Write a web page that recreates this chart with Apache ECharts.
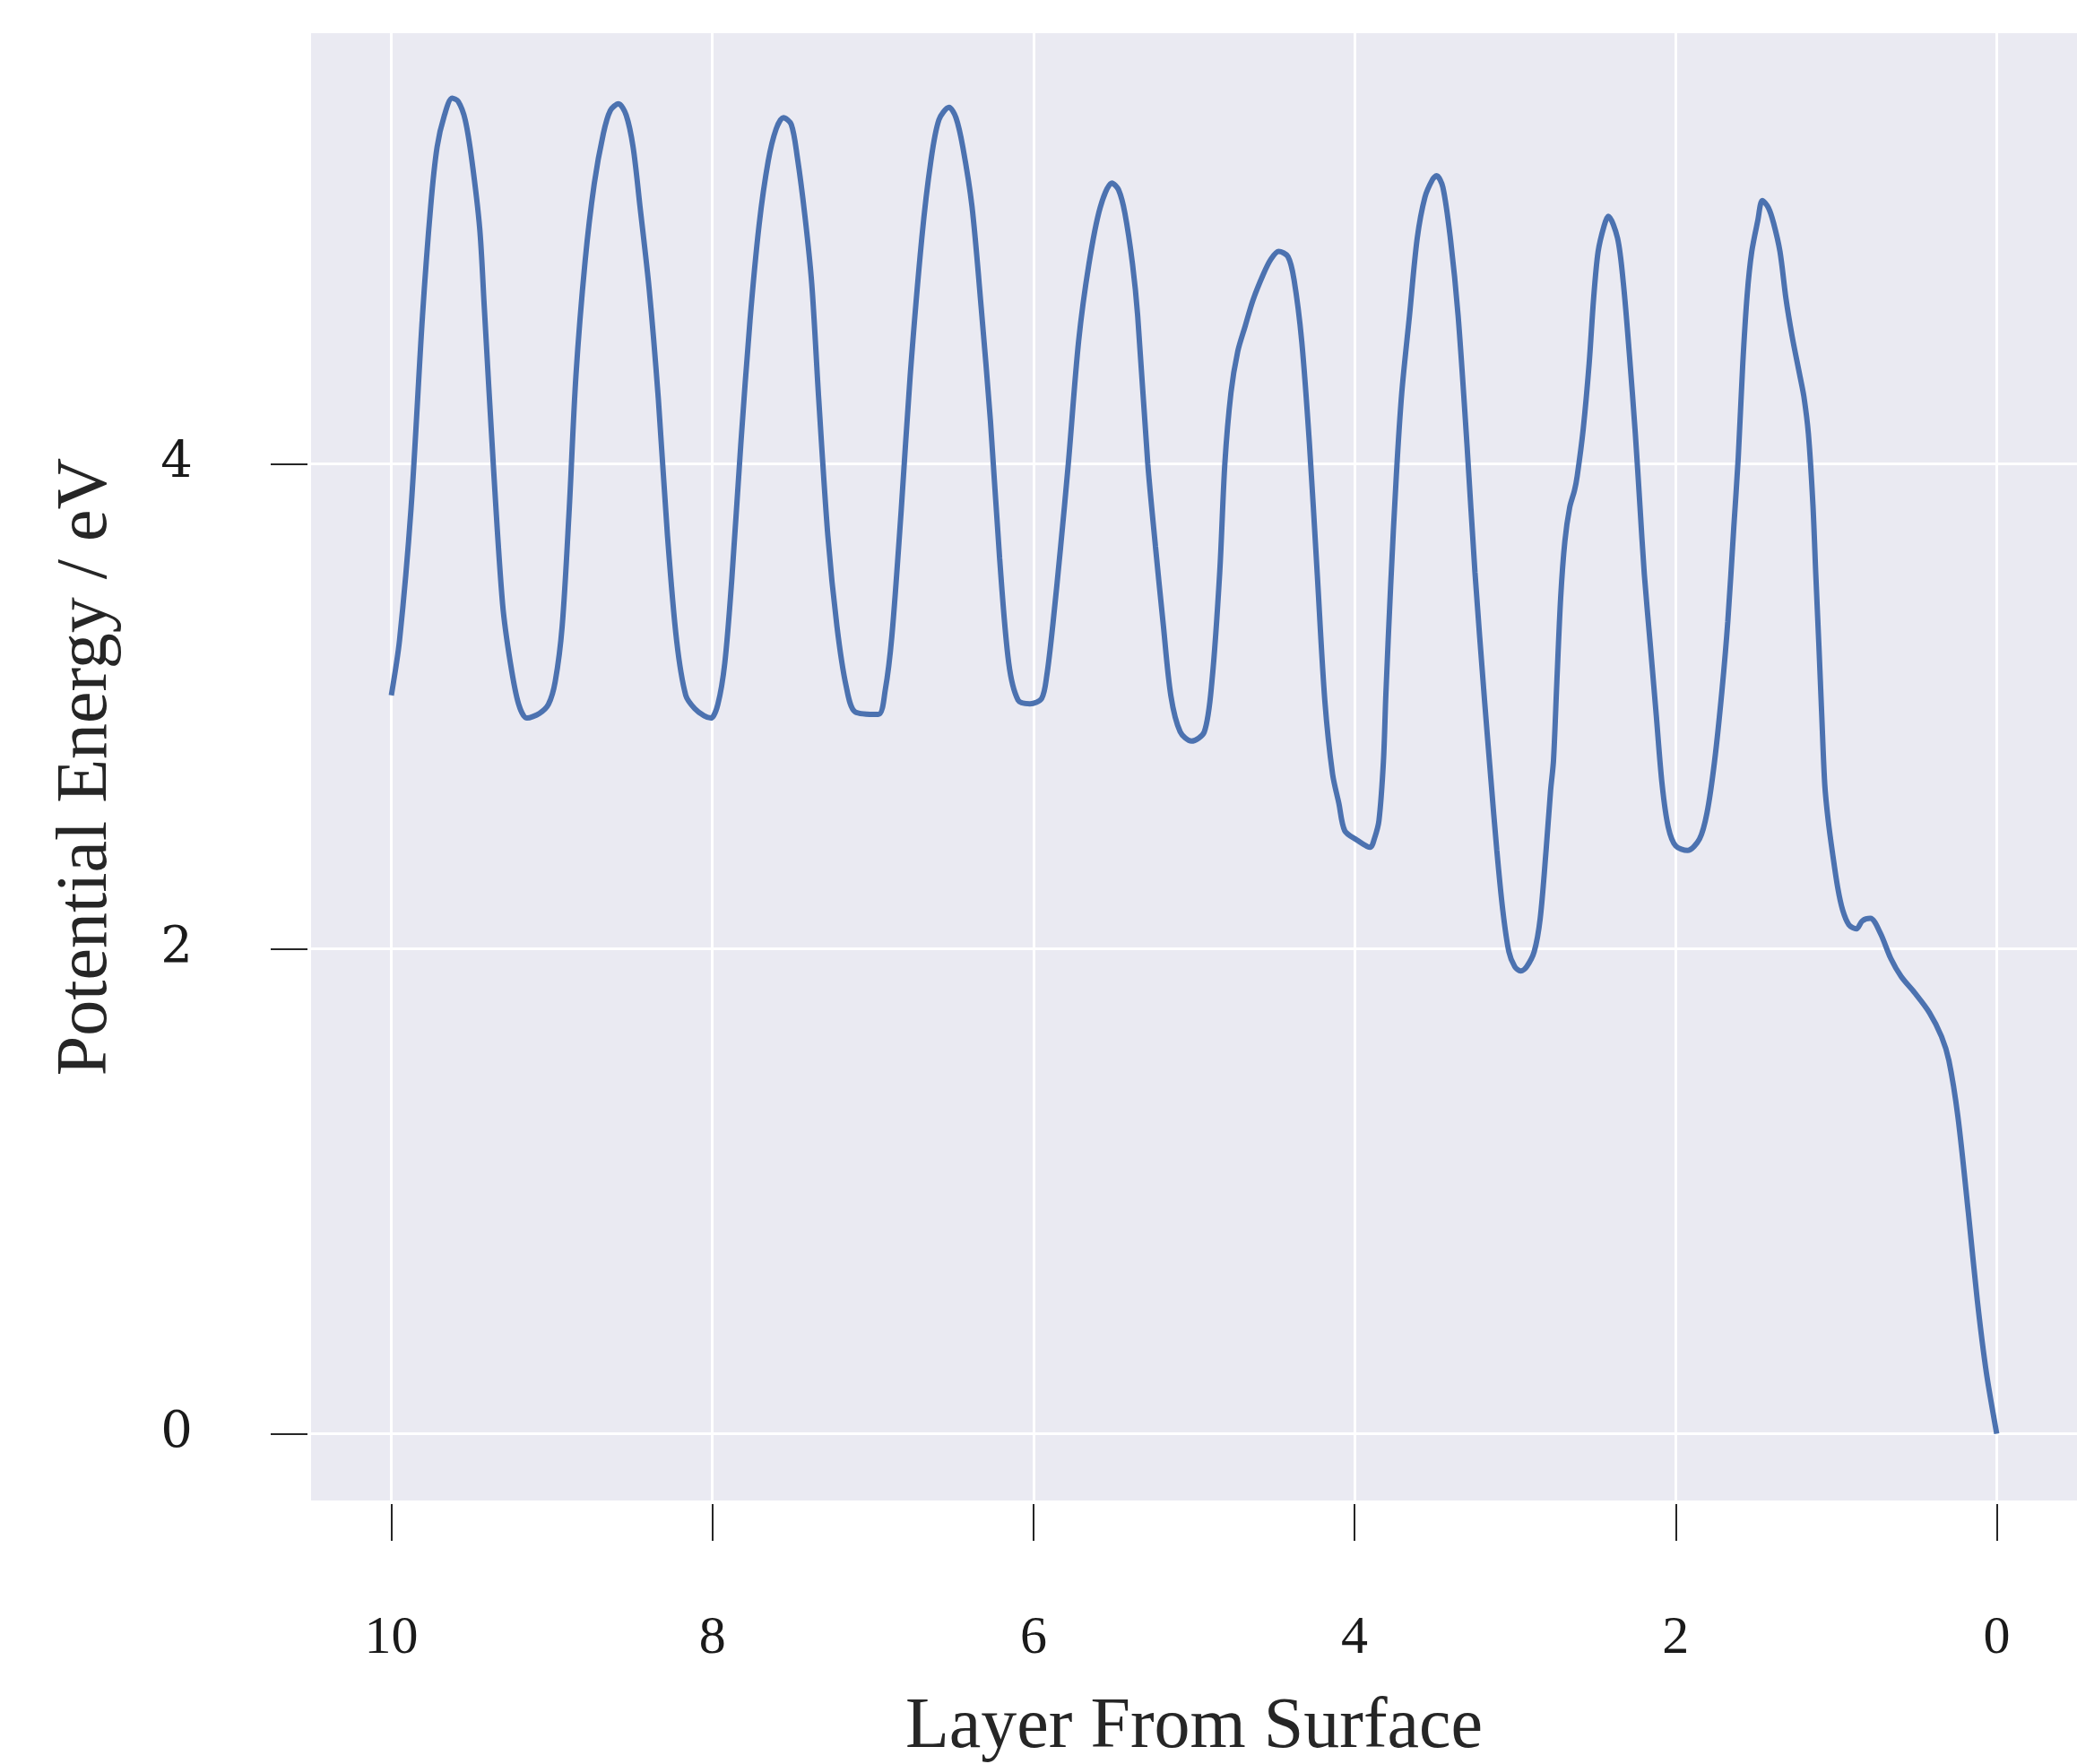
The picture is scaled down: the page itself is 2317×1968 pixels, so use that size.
<!DOCTYPE html>
<html>
<head>
<meta charset="utf-8">
<title>Potential Energy</title>
<script src="https://cdn.jsdelivr.net/npm/echarts@6/dist/echarts.min.js"></script>
<style>
    html, body { margin: 0; padding: 0; background: #fff; }
    #chart { width: 2317px; height: 1968px; }
</style>
</head>
<body>
<div id="chart"></div>
<script>
var layerPos = [
    10.000, 9.949, 9.877, 9.806, 9.755, 9.715, 9.669, 9.621, 9.583, 9.540,
    9.498, 9.449, 9.421, 9.364, 9.307, 9.258, 9.207, 9.155, 9.078, 9.021,
    8.979, 8.936, 8.893, 8.850, 8.793, 8.736, 8.679, 8.636, 8.585, 8.537,
    8.494, 8.451, 8.394, 8.337, 8.280, 8.223, 8.166, 8.109, 8.051, 8.009,
    7.966, 7.923, 7.880, 7.823, 7.766, 7.709, 7.652, 7.603, 7.558, 7.509,
    7.472, 7.424, 7.381, 7.338, 7.281, 7.224, 7.167, 7.110, 6.967, 6.924,
    6.882, 6.825, 6.768, 6.696, 6.639, 6.589, 6.526, 6.483, 6.440, 6.383,
    6.326, 6.268, 6.211, 6.154, 6.096, 6.022, 5.949, 5.917, 5.879, 5.831,
    5.783, 5.719, 5.655, 5.585, 5.511, 5.470, 5.431, 5.383, 5.351, 5.288,
    5.240, 5.192, 5.144, 5.086, 5.016, 4.936, 4.888, 4.840, 4.808, 4.770,
    4.728, 4.681, 4.633, 4.569, 4.521, 4.473, 4.415, 4.377, 4.329, 4.281,
    4.233, 4.185, 4.137, 4.098, 4.061, 3.987, 3.903, 3.876, 3.848, 3.820,
    3.805, 3.775, 3.740, 3.706, 3.658, 3.610, 3.562, 3.514, 3.489, 3.450,
    3.403, 3.355, 3.300, 3.250, 3.190, 3.151, 3.114, 3.077, 3.039, 3.002,
    2.965, 2.928, 2.881, 2.844, 2.807, 2.779, 2.761, 2.740, 2.716, 2.690,
    2.660, 2.630, 2.613, 2.576, 2.539, 2.511, 2.483, 2.446, 2.420, 2.362,
    2.325, 2.288, 2.251, 2.223, 2.195, 2.158, 2.121, 2.084, 2.046, 2.000,
    1.926, 1.851, 1.805, 1.758, 1.712, 1.675, 1.638, 1.610, 1.582, 1.554,
    1.526, 1.489, 1.460, 1.422, 1.390, 1.350, 1.313, 1.275, 1.229, 1.201,
    1.173, 1.145, 1.127, 1.108, 1.090, 1.071, 1.050, 1.023, 0.990, 0.960,
    0.921, 0.874, 0.837, 0.787, 0.726, 0.660, 0.595, 0.512, 0.419, 0.344,
    0.298, 0.242, 0.177, 0.121, 0.065, 0.000
];
var energy = [
    3.045, 3.271, 3.817, 4.608, 5.060, 5.305, 5.437, 5.507, 5.493, 5.418,
    5.249, 4.966, 4.646, 3.987, 3.422, 3.177, 3.008, 2.951, 2.970, 3.008,
    3.102, 3.328, 3.798, 4.363, 4.834, 5.154, 5.362, 5.456, 5.484, 5.437,
    5.305, 5.060, 4.721, 4.269, 3.704, 3.271, 3.045, 2.989, 2.960, 2.951,
    3.008, 3.177, 3.516, 4.081, 4.589, 4.985, 5.249, 5.380, 5.427, 5.399,
    5.268, 5.023, 4.740, 4.269, 3.704, 3.328, 3.083, 2.976, 2.966, 3.064,
    3.290, 3.798, 4.363, 4.928, 5.249, 5.418, 5.469, 5.427, 5.305, 5.060,
    4.646, 4.175, 3.610, 3.177, 3.025, 3.010, 3.032, 3.127, 3.339, 3.657,
    4.000, 4.504, 4.822, 5.055, 5.157, 5.129, 5.034, 4.822, 4.610, 4.000,
    3.657, 3.339, 3.042, 2.894, 2.856, 2.894, 3.106, 3.551, 4.000, 4.292,
    4.462, 4.568, 4.674, 4.780, 4.843, 4.875, 4.854, 4.759, 4.504, 4.081,
    3.551, 3.021, 2.720, 2.600, 2.486, 2.449, 2.418, 2.455, 2.529, 2.775,
    3.050, 3.500, 3.950, 4.292, 4.610, 4.928, 5.098, 5.172, 5.187, 5.140,
    4.928, 4.610, 4.081, 3.551, 3.021, 2.700, 2.406, 2.160, 1.988, 1.926,
    1.908, 1.926, 1.988, 2.123, 2.406, 2.652, 2.775, 3.100, 3.450, 3.680,
    3.820, 3.890, 3.950, 4.141, 4.411, 4.681, 4.874, 4.980, 5.020, 4.930,
    4.739, 4.449, 4.122, 3.832, 3.543, 3.254, 2.964, 2.675, 2.501, 2.424,
    2.405, 2.453, 2.559, 2.771, 3.061, 3.350, 3.736, 4.025, 4.411, 4.700,
    4.874, 5.000, 5.085, 5.055, 4.992, 4.874, 4.681, 4.527, 4.372, 4.276,
    4.122, 3.832, 3.543, 3.254, 2.964, 2.675, 2.530, 2.395, 2.250, 2.160,
    2.099, 2.082, 2.115, 2.125, 2.066, 1.960, 1.885, 1.819, 1.736, 1.638,
    1.539, 1.308, 0.913, 0.550, 0.254, 0.000
];
var layerTicks = [0, 2, 4, 6, 8, 10];
var energyTicks = [0, 2, 4];

var chart = echarts.init(document.getElementById("chart"));

var points = [];
for (var i = 0; i < layerPos.length; i++) {
    points.push([layerPos[i], energy[i]]);
}

var tickStyle = { color: "#262626", width: 2 };
var gridStyle = { color: "#ffffff", width: 3 };

chart.setOption({
    animation: false,
    backgroundColor: "#ffffff",
    grid: {
        left: 347,
        top: 37,
        right: 0,
        bottom: 294,
        show: true,
        backgroundColor: "#EAEAF2",
        borderWidth: 0,
        containLabel: false,
        outerBoundsMode: "none"
    },
    xAxis: {
        type: "value",
        inverse: true,
        min: -0.5,
        max: 10.5,
        offset: 4,
        name: "Layer From Surface",
        nameLocation: "middle",
        nameGap: 210,
        nameTextStyle: { fontFamily: "Liberation Serif", fontSize: 80, color: "#262626" },
        axisLine: { show: false, onZero: false },
        axisTick: { show: true, length: 41, lineStyle: tickStyle, customValues: layerTicks },
        axisLabel: {
            margin: 120,
            fontFamily: "Liberation Serif",
            fontSize: 60,
            color: "#1a1a1a",
            customValues: layerTicks
        },
        splitLine: { show: true, lineStyle: gridStyle }
    },
    yAxis: {
        type: "value",
        min: -0.275,
        max: 5.775,
        offset: 4,
        name: "Potential Energy / eV",
        nameLocation: "middle",
        nameGap: 206,
        nameTextStyle: { fontFamily: "Liberation Serif", fontSize: 80, color: "#262626" },
        axisLine: { show: false, onZero: false },
        axisTick: { show: true, length: 41, lineStyle: tickStyle, customValues: energyTicks },
        axisLabel: {
            margin: 128,
            fontFamily: "DejaVu Serif",
            fontSize: 56,
            color: "#1a1a1a",
            customValues: energyTicks
        },
        splitLine: { show: true, lineStyle: gridStyle }
    },
    series: [{
        type: "line",
        data: points,
        showSymbol: false,
        smooth: 0.3,
        lineStyle: { color: "#4C72B0", width: 6 },
        itemStyle: { color: "#4C72B0" }
    }]
});
</script>
</body>
</html>
